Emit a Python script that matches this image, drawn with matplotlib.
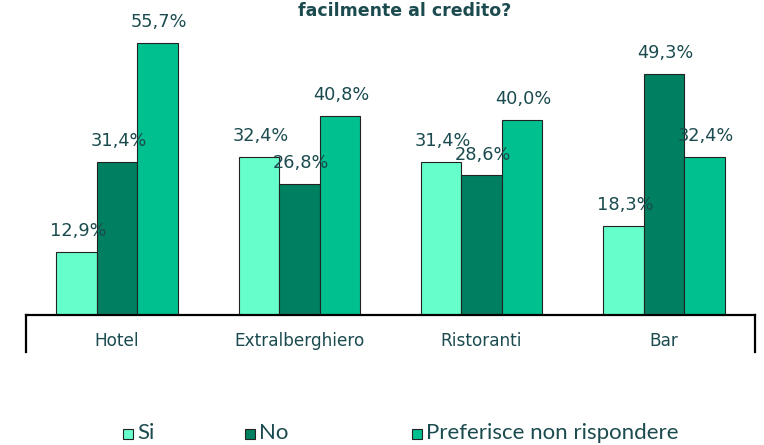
import matplotlib
matplotlib.use("Agg")
import matplotlib.pyplot as plt
import numpy as np
from matplotlib.lines import Line2D
from matplotlib.patches import Rectangle

categories = ["Hotel", "Extralberghiero", "Ristoranti", "Bar"]
series_names = ["Si", "No", "Preferisce non rispondere"]
si = [12.9, 32.4, 31.4, 18.3]
no = [31.4, 26.8, 28.6, 49.3]
pref = [55.7, 40.8, 40.0, 32.4]
title_line = "facilmente al credito?"

colors = ["#66FFCC", "#008060", "#00C090"]
text_color = "#1B4B4F"
plt.rcParams["font.family"] = ["DejaVu Sans"]

fig = plt.figure(figsize=(7.64, 4.45), dpi=100)
ax = fig.add_axes([26/764, 1-315/445, (755-26)/764, (315-22)/445])

x = np.arange(len(categories))
w = 0.222
series = [si, no, pref]
for i, (vals, c) in enumerate(zip(series, colors)):
    xs = x + (i - 1) * w
    ax.bar(xs, vals, width=w, color=c, edgecolor="#222222", linewidth=0.8, zorder=2)
    for xi, v in zip(xs, vals):
        ax.annotate(f"{v:.1f}%".replace(".", ","), (xi, v), xytext=(1, 15),
                    textcoords="offset points", ha="center", va="center",
                    fontsize=12.8, color=text_color, zorder=3)

ax.set_xlim(-0.5, len(categories) - 0.5)
ax.set_ylim(0, 60)
ax.set_yticks([])
ax.set_xticks(x)
ax.set_xticklabels(categories, fontsize=12.2, color=text_color)
ax.tick_params(axis="x", length=0, pad=12.5)
for s in ["top", "left", "right"]:
    ax.spines[s].set_visible(False)
ax.spines["bottom"].set_linewidth(1.6)
ax.spines["bottom"].set_color("black")

# axis end lines below the category axis
for xp in (26, 755):
    fig.add_artist(Line2D([xp/764, xp/764], [1-315/445, 1-352/445],
                          transform=fig.transFigure, color="black", linewidth=1.6))

fig.text(405/764, 1-11/445, title_line, ha="center", va="center",
         fontsize=12.5, fontweight="bold", color=text_color)

# legend
leg_x = [123, 245, 412]
for name, c, lx in zip(series_names, colors, leg_x):
    fig.add_artist(Rectangle((lx/764, 1-439/445), 10/764, 10/445,
                             transform=fig.transFigure, facecolor=c,
                             edgecolor="#222222", linewidth=0.8))
    fig.text((lx+14)/764, 1-433/445, name, ha="left", va="center",
             fontsize=16, color=text_color, family=["Lato", "DejaVu Sans"])

fig.savefig("out.png", dpi=100)
